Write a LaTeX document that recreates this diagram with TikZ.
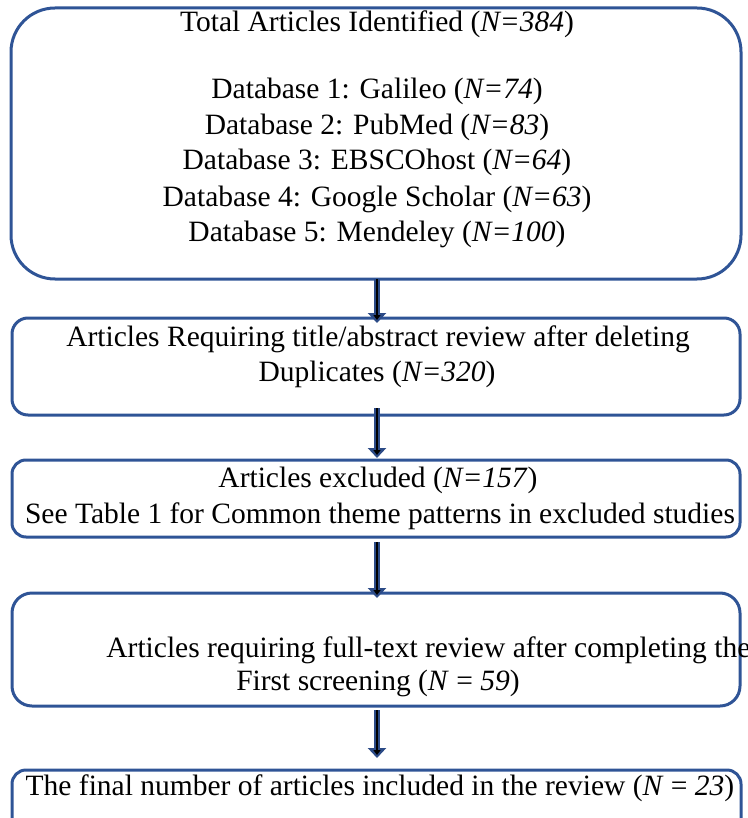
\documentclass[tikz,border=0pt]{standalone}
\usepackage{fontspec}
\setmainfont{Liberation Serif}
\usetikzlibrary{arrows.meta}
\definecolor{boxblue}{HTML}{2F5496}
\definecolor{arrowblue}{HTML}{2B4A86}
\begin{document}
\begin{tikzpicture}[x=0.5pt,y=-0.5pt,
  box/.style={draw=boxblue, line width=1.5pt, inner sep=0pt, outer sep=0pt, anchor=north west},
  txt/.style={font=\fontsize{14.75}{17}\selectfont, inner sep=0pt, anchor=base},
  flowout/.style={draw=arrowblue, line width=3pt, -{Triangle[width=9pt,length=5pt]}},
  flowin/.style={draw=black, line width=1.1pt, -{Triangle[width=3.5pt,length=2.5pt]}}]
\useasboundingbox (0,0) rectangle (748,818);
% boxes
\node[box, minimum width=365pt, minimum height=135.5pt, rounded corners=22pt] (b1) at (11,8) {};
\node[box, minimum width=364pt, minimum height=48.5pt, rounded corners=8pt] (b2) at (12,318) {};
\node[box, minimum width=364pt, minimum height=38.5pt, rounded corners=7pt] (b3) at (12,460) {};
\node[box, minimum width=364pt, minimum height=56.5pt, rounded corners=10pt] (b4) at (12,593) {};
\node[box, minimum width=364.5pt, minimum height=40pt, rounded corners=7pt] (b5) at (12,770) {};
% texts box 1
\node[txt] (t1) at (377,32) {Total Articles Identified (\textit{N=384})};
\node[txt] (t2) at (377,99) {Database 1: Galileo (\textit{N=74})};
\node[txt] (t3) at (377,135) {Database 2: PubMed (\textit{N=83})};
\node[txt] (t4) at (377,170) {Database 3: EBSCOhost (\textit{N=64})};
\node[txt] (t5) at (377,206) {Database 4: Google Scholar (\textit{N=63})};
\node[txt] (t6) at (377,242) {Database 5: Mendeley (\textit{N=100})};
% box 2
\node[txt] (t7) at (378,346) {Articles Requiring title/abstract review after deleting};
\node[txt] (t8) at (377,381) {Duplicates (\textit{N=320})};
% box 3
\node[txt] (t9) at (378,487) {Articles excluded (\textit{N=157})};
\node[txt] (t10) at (380,523) {See Table 1 for Common theme patterns in excluded studies};
% box 4
\node[txt, anchor=base west] (t11) at (106,657) {Articles requiring full-text review after completing the};
\node[txt] (t12) at (378,690) {First screening (\textit{N} = \textit{59})};
% box 5
\node[txt] (t13) at (380,795) {The final number of articles included in the review (\textit{N} = \textit{23})};
% arrows
\coordinate (ax) at (377,0);
\draw[flowout, shorten >=-2.5pt] (b1.south -| ax) -- (b2.north -| ax);
\draw[flowin, shorten >=-1pt] (b1.south -| ax) -- (b2.north -| ax);
\draw[flowout, shorten <=-3.5pt, shorten >=1pt] (b2.south -| ax) -- (b3.north -| ax);
\draw[flowin, shorten <=-3.5pt, shorten >=2.5pt] (b2.south -| ax) -- (b3.north -| ax);
\draw[flowout, shorten <=2.5pt, shorten >=-2.5pt] (b3.south -| ax) -- (b4.north -| ax);
\draw[flowin, shorten <=2.5pt, shorten >=-1pt] (b3.south -| ax) -- (b4.north -| ax);
\draw[flowout, shorten <=2pt, shorten >=6pt] (b4.south -| ax) -- (b5.north -| ax);
\draw[flowin, shorten <=2pt, shorten >=7.5pt] (b4.south -| ax) -- (b5.north -| ax);
\end{tikzpicture}
\end{document}
